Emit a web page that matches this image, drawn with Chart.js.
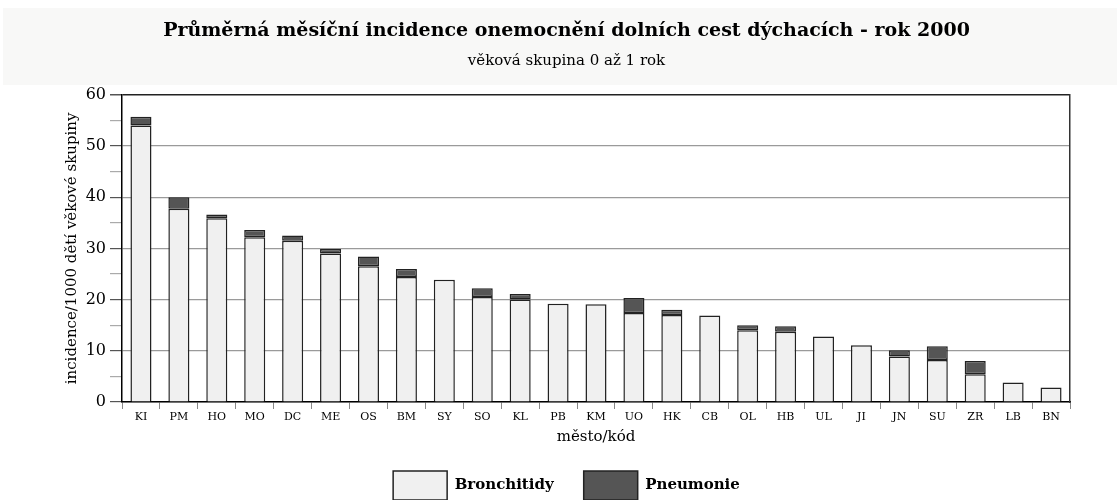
<!DOCTYPE html>
<html>
<head>
<meta charset="utf-8">
<script src="https://cdn.jsdelivr.net/npm/chart.js@4.4.1/dist/chart.umd.min.js"></script>
<style>
    body { margin: 0; background: #ffffff; overflow: hidden; }
    #wrap { width: 1120px; height: 510px; }
</style>
</head>
<body>
<div id="wrap"><canvas id="incidenceChart" width="1120" height="510"></canvas></div>
<script>
const cities = ["KI", "PM", "HO", "MO", "DC", "ME", "OS", "BM", "SY", "SO", "KL", "PB", "KM",
    "UO", "HK", "CB", "OL", "HB", "UL", "JI", "JN", "SU", "ZR", "LB", "BN"];
const bronchitidy = [54.0, 37.75, 35.9, 32.2, 31.5, 29.0, 26.5, 24.4, 23.9, 20.5, 20.0, 19.2, 19.1,
    17.4, 17.0, 16.9, 14.0, 13.7, 12.8, 11.1, 8.9, 8.2, 5.4, 3.8, 2.85];
const pneumonie = [1.7, 2.25, 0.7, 1.4, 1.0, 0.9, 1.9, 1.6, 0, 1.7, 1.1, 0, 0,
    2.9, 1.0, 0, 1.0, 1.1, 0, 0, 1.2, 2.7, 2.6, 0, 0];

const serif = "'DejaVu Serif', 'Liberation Serif', serif";

// light band behind the title
const titleBand = {
    id: "titleBand",
    beforeDraw(chart) {
        const ctx = chart.ctx;
        ctx.save();
        ctx.fillStyle = "#f8f8f7";
        ctx.fillRect(3, 8, chart.width - 6, 77);
        ctx.restore();
    }
};

// no outline for empty segments
const segBorder = c => (c.raw > 0 ? 1.5 : 0);

const ctx = document.getElementById("incidenceChart").getContext("2d");

new Chart(ctx, {
    type: "bar",
    data: {
        labels: cities,
        datasets: [
            {
                label: "Bronchitidy",
                data: bronchitidy,
                backgroundColor: "#f0f0f0",
                borderColor: "#222222",
                borderWidth: segBorder,
                borderSkipped: "start"
            },
            {
                label: "Pneumonie",
                data: pneumonie,
                backgroundColor: "#555555",
                borderColor: "#222222",
                borderWidth: segBorder,
                borderSkipped: false
            }
        ]
    },
    options: {
        responsive: false,
        animation: false,
        layout: { padding: { left: 63, right: 50, top: 10, bottom: 0 } },
        datasets: {
            bar: { categoryPercentage: 1, barPercentage: 0.555 }
        },
        plugins: {
            title: {
                display: true,
                text: "Průměrná měsíční incidence onemocnění dolních cest dýchacích - rok 2000",
                color: "#000",
                font: { family: serif, size: 19, weight: "bold" },
                padding: { top: 10, bottom: 9 }
            },
            subtitle: {
                display: true,
                text: "věková skupina 0 až 1 rok",
                color: "#000",
                font: { family: serif, size: 15 },
                padding: { top: 0, bottom: 25 }
            },
            legend: {
                position: "bottom",
                labels: {
                    boxWidth: 54,
                    boxHeight: 29,
                    padding: 30,
                    color: "#000",
                    font: { family: serif, size: 15, weight: "bold" }
                }
            },
            tooltip: { enabled: false }
        },
        scales: {
            x: {
                stacked: true,
                grid: {
                    offset: true,
                    drawOnChartArea: false,
                    color: "#888",
                    tickLength: 7
                },
                border: { color: "#000", width: 1.5 },
                ticks: {
                    color: "#000",
                    font: { family: serif, size: 11 },
                    padding: 2,
                    maxRotation: 0,
                    autoSkip: false
                },
                title: {
                    display: true,
                    text: "město/kód",
                    color: "#000",
                    font: { family: serif, size: 15 },
                    padding: { top: 0, bottom: -5 }
                },
                afterFit(scale) { scale.height = 39; }
            },
            y: {
                stacked: true,
                min: 0,
                max: 60,
                ticks: {
                    stepSize: 5,
                    color: "#000",
                    padding: 4,
                    font: { family: serif, size: 16 },
                    callback: v => (v % 10 === 0 ? v : "")
                },
                grid: {
                    tickLength: 12,
                    lineWidth: c => (c.tick && c.tick.value === 60 ? 1.5 : 1.2),
                    color: c => {
                        if (!c.tick) return "transparent";
                        if (c.tick.value === 60) return "#222";
                        return c.tick.value % 10 === 0 ? "#9a9a9a" : "transparent";
                    },
                    tickColor: c => (c.tick && c.tick.value % 10 === 0 ? "#555" : "#aaa")
                },
                border: { color: "#000", width: 1.5 },
                title: {
                    display: true,
                    text: "incidence/1000 dětí věkové skupiny",
                    color: "#000",
                    font: { family: serif, size: 15 },
                    padding: { top: 0, bottom: 2 }
                },
                afterFit(scale) { scale.width = 59; }
            },
            y2: {
                position: "right",
                min: 0,
                max: 60,
                ticks: { display: false },
                grid: { display: false },
                border: { color: "#333", width: 1.5 },
                afterFit(scale) { scale.width = 0; }
            }
        }
    },
    plugins: [titleBand]
});
</script>
</body>
</html>
